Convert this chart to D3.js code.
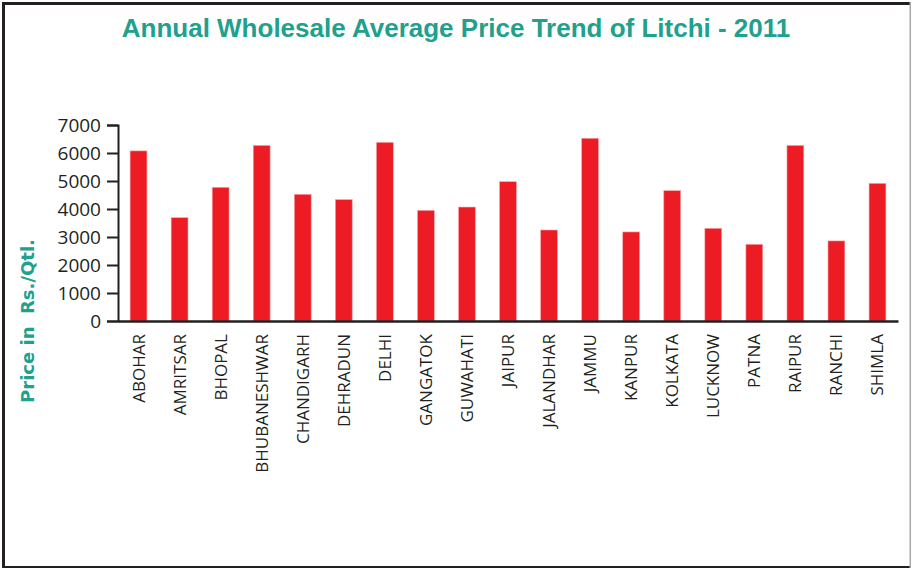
<!DOCTYPE html>
<html>
<head>
<meta charset="utf-8">
<script src="https://cdn.jsdelivr.net/npm/d3@7/dist/d3.min.js"></script>
<style>
  html, body { margin: 0; padding: 0; background: #fff; }
  svg { display: block; }
</style>
</head>
<body>
<svg id="chart" width="912" height="569"></svg>
<script>
// Markets and their 2011 average wholesale litchi prices (Rs./Qtl.)
const markets = [
  "ABOHAR", "AMRITSAR", "BHOPAL", "BHUBANESHWAR", "CHANDIGARH", "DEHRADUN",
  "DELHI", "GANGATOK", "GUWAHATI", "JAIPUR", "JALANDHAR", "JAMMU", "KANPUR",
  "KOLKATA", "LUCKNOW", "PATNA", "RAIPUR", "RANCHI", "SHIMLA"
];
const prices = [
  6075, 3690, 4775, 6270, 4525, 4335,
  6380, 3950, 4070, 4975, 3250, 6525, 3180,
  4655, 3310, 2740, 6270, 2860, 4915
];
const yTicks = [0, 1000, 2000, 3000, 4000, 5000, 6000, 7000];

const teal = "#21a08d";
const ink = "#231f20";
const barRed = "#ed1c24";

const svg = d3.select("#chart");

// Outer frame
svg.append("rect").attr("x", 0).attr("y", 0).attr("width", 912).attr("height", 569).attr("fill", "#fff");
svg.append("rect").attr("x", 2).attr("y", 2).attr("width", 908).attr("height", 3).attr("fill", ink);
svg.append("rect").attr("x", 2).attr("y", 2).attr("width", 3).attr("height", 566).attr("fill", ink);
svg.append("rect").attr("x", 2).attr("y", 566).attr("width", 908).attr("height", 2).attr("fill", ink);
svg.append("rect").attr("x", 909.5).attr("y", 2).attr("width", 1.5).attr("height", 566).attr("fill", "#a8a8a8");

// Title
svg.append("text")
  .attr("x", 456).attr("y", 37)
  .attr("text-anchor", "middle")
  .attr("font-family", "'Liberation Sans', Arial, sans-serif")
  .attr("font-weight", "bold")
  .attr("font-size", 26)
  .attr("fill", teal)
  .text("Annual Wholesale Average Price Trend of Litchi - 2011");

// Scales
const x = d3.scaleBand()
  .domain(markets)
  .range([118, 898])
  .paddingInner(0.59)
  .paddingOuter(0.295);

const y = d3.scaleLinear()
  .domain([0, 7000])
  .range([321, 125]);

// Bars
svg.append("g")
  .selectAll("rect")
  .data(markets)
  .join("rect")
  .attr("x", d => x(d))
  .attr("width", x.bandwidth())
  .attr("y", (d, i) => y(prices[i]))
  .attr("height", (d, i) => y(0) - y(prices[i]))
  .attr("fill", barRed)
  .attr("stroke", "#f6a5a8")
  .attr("stroke-width", 0.6);

// Y axis
const yAxis = svg.append("g")
  .attr("transform", "translate(118,0)")
  .call(d3.axisLeft(y).tickValues(yTicks).tickFormat(d3.format("d")).tickSize(11).tickPadding(6));
yAxis.select(".domain").attr("stroke", ink).attr("stroke-width", 2);
yAxis.selectAll(".tick line").attr("stroke", ink).attr("stroke-width", 2);
yAxis.selectAll(".tick text")
  .attr("font-family", "'Open Sans', sans-serif")
  .attr("font-size", 19)
  .attr("fill", ink);

// X axis
const xAxis = svg.append("g")
  .attr("transform", "translate(0,321)")
  .call(d3.axisBottom(x).tickSize(0).tickPadding(0));
xAxis.select(".domain").attr("stroke", ink).attr("stroke-width", 2.4);
xAxis.selectAll(".tick text")
  .attr("font-family", "'Open Sans', sans-serif")
  .attr("font-size", 17)
  .attr("fill", ink)
  .attr("text-anchor", "end")
  .attr("dy", null)
  .attr("y", 0)
  .attr("transform", "translate(6,13) rotate(-90)");

// Y axis title
svg.append("text")
  .attr("transform", "translate(34,321) rotate(-90)")
  .attr("text-anchor", "middle")
  .attr("font-family", "'DejaVu Sans', Verdana, sans-serif")
  .attr("font-weight", "bold")
  .attr("font-size", 18)
  .attr("fill", teal)
  .style("white-space", "pre")
  .text("Price in  Rs./Qtl.");
</script>
</body>
</html>
